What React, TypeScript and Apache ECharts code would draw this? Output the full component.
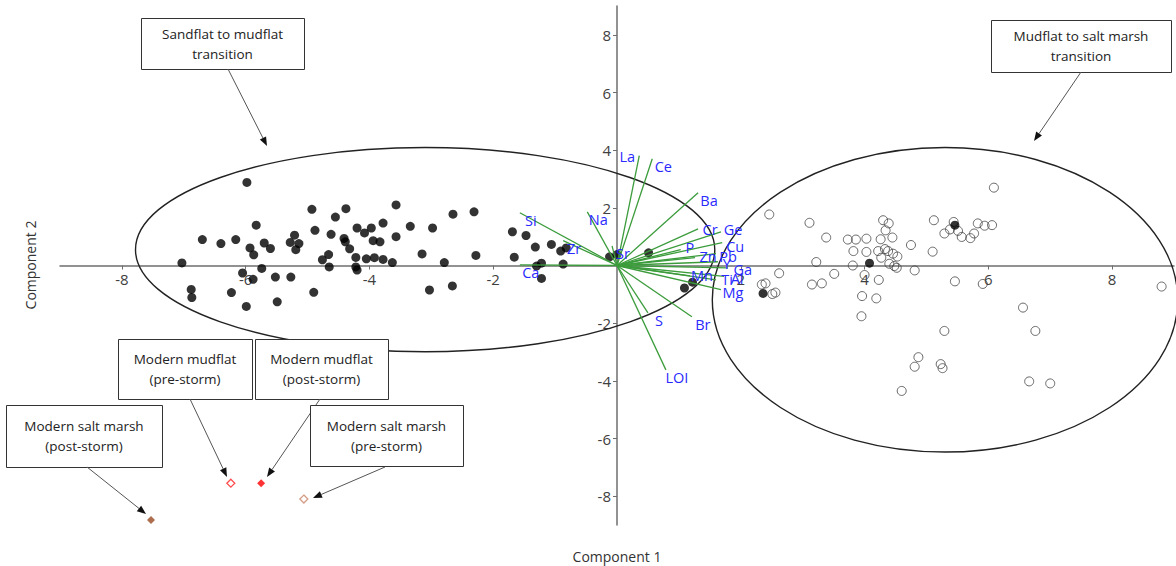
import React, { useEffect, useRef } from "react";
import * as echarts from "echarts";

// ---------- data ----------
const X_TICKS = [-8, -6, -4, -2, 2, 4, 6, 8];
const Y_TICKS = [-8, -6, -4, -2, 2, 4, 6, 8];

// Sandflat to mudflat transition samples (filled black)
const SANDFLAT_POINTS: number[][] = [
  [-5.98, 2.88], [-4.93, 1.95], [-4.38, 1.97], [-4.55, 1.68], [-5.83, 1.40], [-3.57, 2.10],
  [-3.78, 1.47], [-4.20, 1.30], [-3.97, 1.30], [-4.08, 1.13], [-4.88, 1.22], [-4.62, 1.08],
  [-6.70, 0.90], [-6.40, 0.76], [-6.16, 0.90], [-5.93, 0.61], [-5.87, 0.37], [-5.70, 0.78],
  [-5.60, 0.59], [-5.28, 0.80], [-5.21, 1.05], [-5.14, 0.76], [-5.19, 0.55], [-4.41, 0.94],
  [-4.39, 0.82], [-4.32, 0.58], [-3.94, 0.86], [-3.83, 0.82], [-3.57, 1.00], [-4.66, 0.38],
  [-4.76, 0.20], [-4.22, 0.28], [-4.05, 0.23], [-3.92, 0.27], [-3.78, 0.21], [-3.63, 0.10],
  [-7.03, 0.09], [-4.65, -0.05], [-4.22, -0.05], [-4.20, -0.16], [-5.74, -0.10], [-6.05, -0.26],
  [-5.88, -0.48], [-5.52, -0.40], [-5.27, -0.40], [-6.88, -0.83], [-6.87, -1.11], [-6.23, -0.94],
  [-4.90, -0.93], [-5.49, -1.26], [-5.99, -1.42],
  [-3.34, 1.36], [-2.98, 1.30], [-2.65, 1.78], [-2.31, 1.86], [-3.15, 0.40], [-2.79, 0.10],
  [-2.28, 0.35], [-3.03, -0.85], [-2.66, -0.71], [-1.69, 1.17], [-1.47, 1.04], [-1.32, 0.64],
  [-1.06, 0.73], [-0.91, 0.50], [-0.82, 0.61], [-1.66, 0.29], [-0.87, 0.05], [-1.30, -0.02],
  [-1.22, 0.08], [-1.22, -0.45], [-0.12, 0.30], [0.00, 0.38], [0.51, 0.44], [1.09, -0.78],
  [1.22, -0.58],
];

// Mudflat to salt marsh transition samples (open circles)
const SALTMARSH_POINTS: number[][] = [
  [6.09, 2.70], [2.46, 1.77], [3.11, 1.48], [3.38, 0.97], [3.73, 0.90], [3.86, 0.90],
  [4.03, 0.93], [4.30, 1.57], [4.39, 1.46], [4.34, 1.22], [4.26, 0.91], [4.45, 0.97],
  [3.82, 0.50], [4.03, 0.47], [4.22, 0.50], [4.33, 0.57], [4.38, 0.50], [4.46, 0.41],
  [4.53, 0.31], [4.27, 0.27], [4.40, 0.06], [4.48, -0.02], [4.52, -0.08], [3.81, 0.00],
  [3.22, 0.12], [3.51, -0.29], [4.00, -0.33], [4.23, -0.50], [4.81, -0.17], [4.75, 0.71],
  [5.10, 0.48], [5.12, 1.57], [5.29, 1.11], [5.38, 1.25], [5.44, 1.51], [5.51, 1.20],
  [5.57, 0.99], [5.71, 0.95], [5.77, 1.11], [5.83, 1.46], [5.94, 1.38], [6.06, 1.40],
  [5.46, -0.55], [5.91, -0.64], [2.62, -0.27], [2.34, -0.66], [2.40, -0.62], [2.51, -0.99],
  [2.56, -0.94], [3.15, -0.66], [3.31, -0.62], [3.96, -1.06], [4.19, -1.14], [3.95, -1.76],
  [5.29, -2.27], [4.87, -3.18], [4.81, -3.51], [5.23, -3.42], [5.26, -3.56], [4.60, -4.35],
  [6.56, -1.46], [6.76, -2.27], [6.66, -4.02], [7.00, -4.09], [8.80, -0.73],
];

// filled samples inside the salt-marsh group
const SALTMARSH_FILLED: number[][] = [[5.46, 1.40], [4.08, 0.08], [2.36, -0.97]];

// modern surface samples
const MUDFLAT_PRE: number[][] = [[-6.24, -7.55]];
const MUDFLAT_POST: number[][] = [[-5.75, -7.55]];
const SALTMARSH_PRE: number[][] = [[-5.06, -8.10]];
const SALTMARSH_POST: number[][] = [[-7.53, -8.83]];

// group ellipses: [centre x, centre y, semi-axis x, semi-axis y]
const GROUP_ELLIPSES: number[][] = [
  [-3.1, 0.55, 4.68, 3.54],
  [5.3, -1.19, 3.76, 5.28],
];

// element loadings
const LOADING_NAMES = [
  "La", "Ce", "Ba", "Cr", "Ge", "Cu", "P", "Zn", "Pb", "Y", "Ga", "Al", "Mn", "Ti", "Mg",
  "Na", "Si", "Zr", "Sr", "Ca", "S", "Br", "LOI",
];
const LOADING_VALUES: number[][] = [
  [0.36, 3.81], [0.57, 3.70], [1.31, 2.52], [1.31, 1.27], [1.68, 1.17], [1.70, 0.79],
  [1.03, 0.55], [1.26, 0.27], [1.60, 0.41], [1.63, 0.13], [1.79, -0.08], [1.73, -0.38],
  [1.18, -0.36], [1.60, -0.50], [1.68, -0.84],
  [-0.48, 1.86], [-1.57, 1.83], [-0.87, 0.86], [-0.08, 0.68], [-1.57, 0.02],
  [0.50, -1.64], [1.21, -1.78], [0.79, -3.62],
];

// ---------- layout (pixels) ----------
const LABEL_NUDGE: Record<string, [number, number]> = {
  La: [-12, 1], Cr: [12, 1], Ge: [12, -2], Cu: [13, 4], P: [9, -2], Zn: [13, -1], Pb: [12, 3],
  Y: [9, 2], Ga: [15, 2], Al: [13, 2], Mn: [12, 0], Ti: [11, 0], Mg: [12, 3],
};
const DEFAULT_NUDGE: [number, number] = [11, 8];

const ANNOTATIONS = [
  { box: [141, 18, 163, 51], lines: ["Sandflat to mudflat", "transition"], from: [228, 69], to: [267, 146] },
  { box: [991, 20, 180, 52], lines: ["Mudflat to salt marsh", "transition"], from: [1081, 72], to: [1034, 141] },
  { box: [118, 339, 134, 60], lines: ["Modern mudflat", "(pre-storm)"], from: [190, 399], to: [227, 477] },
  { box: [255, 339, 133, 60], lines: ["Modern mudflat", "(post-storm)"], from: [320, 399], to: [267, 477] },
  { box: [6, 405, 156, 62], lines: ["Modern salt marsh", "(post-storm)"], from: [87, 467], to: [146, 514] },
  { box: [310, 405, 153, 61], lines: ["Modern salt marsh", "(pre-storm)"], from: [385, 467], to: [313, 498] },
];

const FONT = "'Open Sans', 'Noto Sans', sans-serif";
const GRID = { left: 60, right: 2, top: 6, bottom: 41 };

function buildAnnotations(): any[] {
  const els: any[] = [];
  ANNOTATIONS.forEach((a) => {
    const [bx, by, bw, bh] = a.box;
    els.push({
      type: "rect",
      shape: { x: bx + 0.5, y: by + 0.5, width: bw, height: bh },
      style: { fill: "#fff", stroke: "#333", lineWidth: 1 },
      z: 10,
    });
    a.lines.forEach((t, i) => {
      els.push({
        type: "text",
        x: bx + bw / 2,
        y: by + bh / 2 + (i - (a.lines.length - 1) / 2) * 20,
        style: { text: t, fill: "#222", font: `13.5px ${FONT}`, align: "center", verticalAlign: "middle" },
        z: 11,
      });
    });
    const [x1, y1] = a.from;
    const [x2, y2] = a.to;
    const ang = Math.atan2(y2 - y1, x2 - x1);
    const L = 9, W = 3.5;
    const bxp = x2 - L * Math.cos(ang), byp = y2 - L * Math.sin(ang);
    els.push({
      type: "line",
      shape: { x1, y1, x2: bxp, y2: byp },
      style: { stroke: "#555", lineWidth: 1 },
      z: 10,
    });
    els.push({
      type: "polygon",
      shape: {
        points: [
          [x2, y2],
          [bxp + W * Math.sin(ang), byp - W * Math.cos(ang)],
          [bxp - W * Math.sin(ang), byp + W * Math.cos(ang)],
        ],
      },
      style: { fill: "#111" },
      z: 10,
    });
  });
  els.push({
    type: "text",
    x: 617,
    y: 556,
    style: { text: "Component 1", fill: "#333", font: `14px ${FONT}`, align: "center", verticalAlign: "middle" },
  });
  els.push({
    type: "text",
    x: 30,
    y: 265,
    rotation: Math.PI / 2,
    style: { text: "Component 2", fill: "#333", font: `14px ${FONT}`, align: "center", verticalAlign: "middle" },
  });
  return els;
}

export default function App() {
  const ref = useRef<HTMLDivElement>(null);
  useEffect(() => {
    document.body.style.margin = "0";
    if (!ref.current) return;
    const chart = echarts.init(ref.current, null, { renderer: "svg" });
    const axisCommon = {
      type: "value",
      min: -9,
      max: 9,
      axisLine: { onZero: false, lineStyle: { color: "#6e6e6e", width: 1.5 } },
      splitLine: { show: false },
    };
    chart.setOption({
      animation: false,
      backgroundColor: "#fff",
      grid: { ...GRID, outerBoundsMode: "none" },
      xAxis: {
        ...axisCommon,
        axisTick: { customValues: X_TICKS, length: 4, lineStyle: { color: "#6e6e6e" } },
        axisLabel: { customValues: X_TICKS, fontSize: 15, color: "#404040", fontFamily: FONT, margin: 6 },
      },
      yAxis: {
        ...axisCommon,
        axisTick: { customValues: Y_TICKS, length: 4, lineStyle: { color: "#6e6e6e" } },
        axisLabel: { customValues: Y_TICKS, fontSize: 15, color: "#404040", fontFamily: FONT, margin: 6 },
      },
      graphic: buildAnnotations(),
      series: [
        {
          type: "custom",
          name: "ellipses",
          data: GROUP_ELLIPSES,
          encode: { x: 0, y: 1 },
          z: 1,
          silent: true,
          renderItem: (params: any, api: any) => {
            const c = api.coord([api.value(0), api.value(1)]);
            const s = api.size([api.value(2), api.value(3)]);
            return {
              type: "ellipse",
              shape: { cx: c[0], cy: c[1], rx: s[0], ry: s[1] },
              style: { fill: "none", stroke: "#222", lineWidth: 1.4 },
            };
          },
        },
        {
          type: "scatter",
          name: "Sandflat to mudflat transition",
          data: SANDFLAT_POINTS,
          symbolSize: 9,
          itemStyle: { color: "#000" },
          z: 2,
        },
        {
          type: "scatter",
          name: "Mudflat to salt marsh transition",
          data: SALTMARSH_POINTS,
          symbolSize: 9,
          itemStyle: { color: "rgba(255,255,255,0)", borderColor: "#444", borderWidth: 1 },
          z: 2,
        },
        {
          type: "scatter",
          name: "Salt marsh filled",
          data: SALTMARSH_FILLED,
          symbolSize: 9,
          itemStyle: { color: "#000" },
          z: 2,
        },
        {
          type: "custom",
          name: "loadings",
          data: LOADING_VALUES,
          encode: { x: 0, y: 1 },
          z: 3,
          silent: true,
          renderItem: (params: any, api: any) => {
            const o = api.coord([0, 0]);
            const e = api.coord([api.value(0), api.value(1)]);
            const name = LOADING_NAMES[params.dataIndex];
            const n = LABEL_NUDGE[name] || DEFAULT_NUDGE;
            return {
              type: "group",
              children: [
                {
                  type: "line",
                  shape: { x1: o[0], y1: o[1], x2: e[0], y2: e[1] },
                  style: { stroke: "#3c9c3c", lineWidth: 1.3 },
                },
                {
                  type: "text",
                  x: e[0] + n[0],
                  y: e[1] + n[1],
                  style: {
                    text: name,
                    fill: "#2a2aff",
                    font: `14.5px ${FONT}`,
                    align: "center",
                    verticalAlign: "middle",
                  },
                  z2: 5,
                },
              ],
            };
          },
        },
        {
          type: "scatter",
          name: "Modern mudflat (pre-storm)",
          data: MUDFLAT_PRE,
          symbol: "diamond",
          symbolSize: 8,
          itemStyle: { color: "#fff", borderColor: "#ff2020", borderWidth: 1.3 },
          z: 4,
        },
        {
          type: "scatter",
          name: "Modern mudflat (post-storm)",
          data: MUDFLAT_POST,
          symbol: "diamond",
          symbolSize: 8,
          itemStyle: { color: "#ff0000" },
          z: 4,
        },
        {
          type: "scatter",
          name: "Modern salt marsh (pre-storm)",
          data: SALTMARSH_PRE,
          symbol: "diamond",
          symbolSize: 8,
          itemStyle: { color: "#fff", borderColor: "#c98466", borderWidth: 1.3 },
          z: 4,
        },
        {
          type: "scatter",
          name: "Modern salt marsh (post-storm)",
          data: SALTMARSH_POST,
          symbol: "diamond",
          symbolSize: 8,
          itemStyle: { color: "#9a4a22" },
          z: 4,
        },
      ],
    });
    // move both axes (line, ticks, labels) so they cross at the data origin
    const origin = chart.convertToPixel({ gridIndex: 0 }, [0, 0]) as number[];
    const h = 566 - GRID.top - GRID.bottom;
    chart.setOption({
      xAxis: { offset: -(GRID.top + h - origin[1]) },
      yAxis: { offset: -(origin[0] - GRID.left) },
    });
    return () => chart.dispose();
  }, []);
  return <div ref={ref} style={{ width: 1176, height: 566 }} />;
}
